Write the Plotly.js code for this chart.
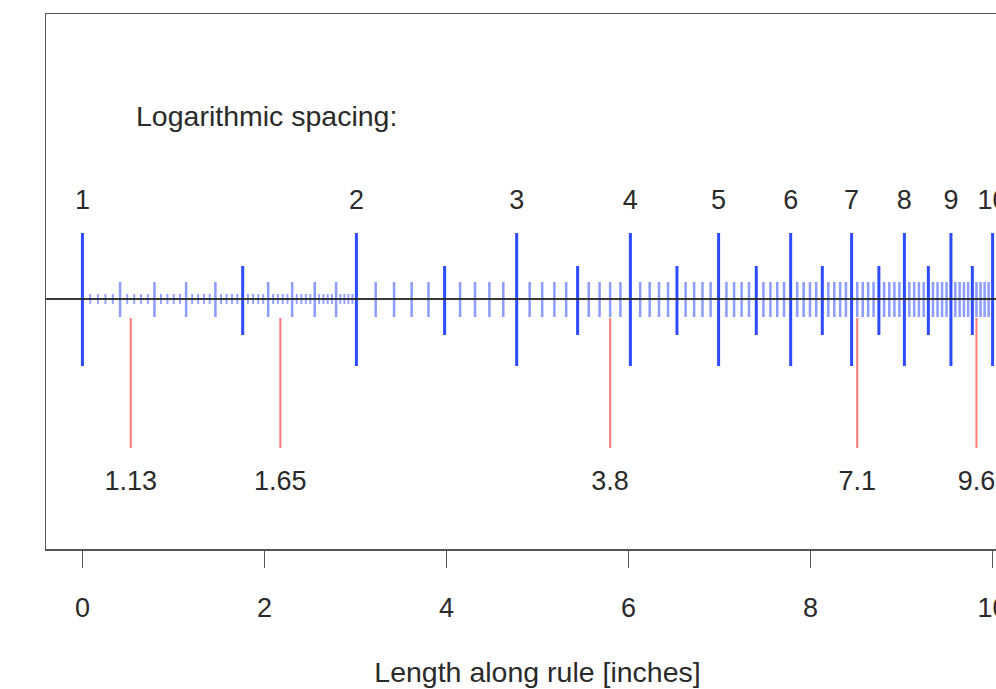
<!DOCTYPE html>
<html>
<head>
<meta charset="utf-8">
<script src="https://cdn.plot.ly/plotly-3.0.1.min.js"></script>
<style>
html, body { margin: 0; padding: 0; overflow: hidden; background: #fff; }
#chart { width: 1062px; height: 689px; }
</style>
</head>
<body>
<div id="chart"></div>
<script>
// Rule values (numbers printed on the slide rule)
const majorVals = [1, 2, 3, 4, 5, 6, 7, 8, 9, 10];
const majorLabels = ['1', '2', '3', '4', '5', '6', '7', '8', '9', '10'];
const mediumVals = [1.5, 2.5, 3.5, 4.5, 5.5, 6.5, 7.5, 8.5, 9.5];
const smallVals = [
  1.1, 1.2, 1.3, 1.4, 1.6, 1.7, 1.8, 1.9,
  2.1, 2.2, 2.3, 2.4, 2.6, 2.7, 2.8, 2.9,
  3.1, 3.2, 3.3, 3.4, 3.6, 3.7, 3.8, 3.9,
  4.1, 4.2, 4.3, 4.4, 4.6, 4.7, 4.8, 4.9,
  5.1, 5.2, 5.3, 5.4, 5.6, 5.7, 5.8, 5.9,
  6.1, 6.2, 6.3, 6.4, 6.6, 6.7, 6.8, 6.9,
  7.1, 7.2, 7.3, 7.4, 7.6, 7.7, 7.8, 7.9,
  8.1, 8.2, 8.3, 8.4, 8.6, 8.7, 8.8, 8.9,
  9.1, 9.2, 9.3, 9.4, 9.6, 9.7, 9.8, 9.9
];
const tinyVals = [
  1.02, 1.04, 1.06, 1.08, 1.12, 1.14, 1.16, 1.18,
  1.22, 1.24, 1.26, 1.28, 1.32, 1.34, 1.36, 1.38,
  1.42, 1.44, 1.46, 1.48, 1.52, 1.54, 1.56, 1.58,
  1.62, 1.64, 1.66, 1.68, 1.72, 1.74, 1.76, 1.78,
  1.82, 1.84, 1.86, 1.88, 1.92, 1.94, 1.96, 1.98
];
// Marked readings (red)
const markVals = [1.13, 1.65, 3.8, 7.1, 9.6];
const markLabels = ['1.13', '1.65', '3.8', '7.1', '9.6'];
// Bottom axis (inches)
const inchTicks = [0, 2, 4, 6, 8, 10];

function segs(vals, y0, y1) {
  const x = [], y = [];
  vals.forEach(v => { x.push(v, v, null); y.push(y0, y1, null); });
  return {x, y};
}

const FONT = '"Liberation Sans", Arial, Helvetica, sans-serif';
const BLUE = 'rgb(45,75,255)';
const TXT = '#2a2a2a';

const tiny = segs(tinyVals, -0.05, 0.05);
const small = segs(smallVals, -0.18, 0.17);
const medium = segs(mediumVals, -0.36, 0.33);
const major = segs(majorVals, -0.67, 0.66);
const marks = segs(markVals, -0.19, -1.49);

const common = {type: 'scatter', mode: 'lines', xaxis: 'x2', yaxis: 'y', hoverinfo: 'skip', showlegend: false};

const traces = [
  Object.assign({}, common, {x: tiny.x, y: tiny.y, line: {color: 'rgba(45,75,255,0.5)', width: 2}}),
  Object.assign({}, common, {x: small.x, y: small.y, line: {color: 'rgba(45,75,255,0.55)', width: 2.5}}),
  Object.assign({}, common, {x: medium.x, y: medium.y, line: {color: BLUE, width: 3}}),
  Object.assign({}, common, {x: major.x, y: major.y, line: {color: BLUE, width: 3}}),
  Object.assign({}, common, {x: marks.x, y: marks.y, line: {color: 'rgba(255,95,95,0.85)', width: 2}}),
  {type: 'scatter', mode: 'text', xaxis: 'x2', yaxis: 'y', x: majorVals, y: majorVals.map(() => 0.97),
   text: majorLabels, textposition: 'middle center', textfont: {family: FONT, size: 27, color: TXT},
   hoverinfo: 'skip', showlegend: false, cliponaxis: false},
  {type: 'scatter', mode: 'text', xaxis: 'x2', yaxis: 'y', x: markVals, y: markVals.map(() => -1.84),
   text: markLabels, textposition: 'middle center', textfont: {family: FONT, size: 27, color: TXT},
   hoverinfo: 'skip', showlegend: false, cliponaxis: false}
];

const layout = {
  width: 1062, height: 689,
  margin: {l: 46, r: 32.6, t: 14, b: 140, autoexpand: false},
  paper_bgcolor: '#fff', plot_bgcolor: '#fff',
  font: {family: FONT, color: TXT, size: 27},
  xaxis: {
    range: [-0.4, 10.4], tickvals: inchTicks, ticktext: inchTicks.map(String),
    showgrid: false, zeroline: false,
    showline: true, mirror: true, linecolor: '#555', linewidth: 1.5,
    ticks: 'outside', ticklen: 17, tickwidth: 1.5, tickcolor: '#555',
    ticklabelstandoff: 17,
    tickfont: {family: FONT, size: 27, color: TXT},
    title: {text: 'Length along rule [inches]', font: {family: FONT, size: 28.5, color: TXT}, standoff: 40},
    automargin: false
  },
  xaxis2: {type: 'log', overlaying: 'x', range: [-0.04, 1.04], visible: false},
  yaxis: {
    range: [-2.5, 2.85], showgrid: false, zeroline: false, showticklabels: false, ticks: '',
    showline: true, mirror: true, linecolor: '#555', linewidth: 1.5, automargin: false
  },
  shapes: [
    {type: 'line', xref: 'paper', yref: 'y', x0: 0, x1: 1, y0: 0, y1: 0, layer: 'above',
     line: {color: 'rgba(35,35,35,0.9)', width: 1.8}}
  ],
  annotations: [
    {xref: 'x', yref: 'y', x: 0.57, y: 1.83, xanchor: 'left', yanchor: 'middle', showarrow: false,
     text: 'Logarithmic spacing:', font: {family: FONT, size: 28.5, color: TXT}}
  ]
};

Plotly.newPlot('chart', traces, layout, {displayModeBar: false, staticPlot: true});
</script>
</body>
</html>
